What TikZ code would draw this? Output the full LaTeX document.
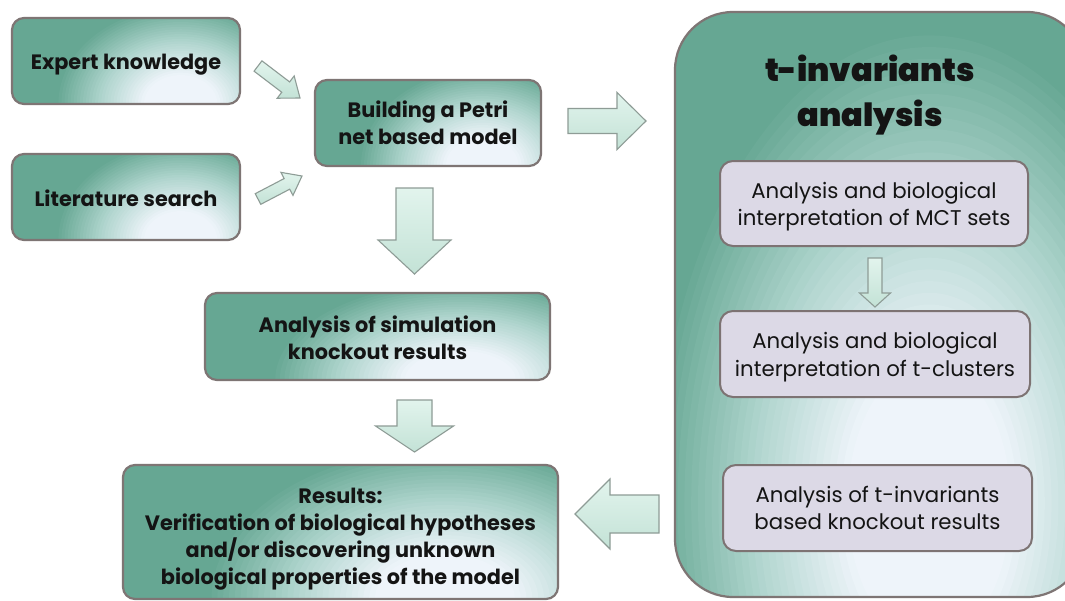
\documentclass[tikz,border=0pt]{standalone}
\usepackage{fontspec}
\setmainfont{Poppins}
\newfontfamily\heavyfont{Poppins Black}
\usetikzlibrary{calc}

\definecolor{teal0}{HTML}{66A793}
\definecolor{glowmid}{HTML}{B0D5CE}
\definecolor{glowin}{HTML}{EEF4FA}
\definecolor{edgegray}{HTML}{7E7574}
\definecolor{lav}{HTML}{DCD9E6}
\definecolor{lavedge}{HTML}{7D7373}
\definecolor{minttop}{HTML}{E2F4ED}
\definecolor{mintbot}{HTML}{C3E2D6}
\definecolor{arrowedge}{HTML}{8E9C96}
\definecolor{ink}{HTML}{141414}

% block arrow from #1 (tail) to #2 (tip): shaft half width #3,
% head half width #4, head length #5
\newcommand\blockarrow[5]{%
  \coordinate (hb) at ($(#2)!#5!(#1)$);
  \draw[fatarrow]
    ($(#1)!#3!90:(#2)$) -- ($(hb)!#3!90:(#2)$) -- ($(hb)!#4!90:(#2)$) --
    (#2) --
    ($(hb)!#4!-90:(#2)$) -- ($(hb)!#3!-90:(#2)$) -- ($(#1)!#3!-90:(#2)$) -- cycle;
}

% colour of the glow at relative radius #1 (0 = centre, 1 = rim)
\newcommand\glowcolour[1]{%
  \pgfmathsetmacro\gr{#1}%
  \ifdim\gr pt>0.64pt
    \pgfmathsetmacro\gp{(\gr-0.64)/0.36*100}%
    \colorlet{gc}{teal0!\gp!glowmid}%
  \else\ifdim\gr pt>0.30pt
    \pgfmathsetmacro\gp{(\gr-0.30)/0.34*100}%
    \colorlet{gc}{glowmid!\gp!glowin}%
  \else
    \colorlet{gc}{glowin}%
  \fi\fi}

% raises the first text line so the block sits lower in its box
\newcommand\lowerby[1]{\rule{0pt}{\dimexpr 0.75em+#1\relax}}

\begin{document}
\begin{tikzpicture}[x=1pt,y=-1pt,
  % soft white glow painted as nested ellipses, fading into the teal fill
  glowing/.style n args={4}{path picture={
    \foreach \k in {0,...,40}{
      \pgfmathsetmacro\rr{1-\k/41}
      \glowcolour{\rr}
      \fill[gc] let \p1=(path picture bounding box.south west),
                    \p2=(path picture bounding box.north east) in
        ({\x1+#1*(\x2-\x1)},{\y1+#2*(\y2-\y1)})
        ellipse [x radius={\rr*#3*(\x2-\x1)}, y radius={\rr*#4*(\y2-\y1)}];
    }}},
  tealbox/.style={draw=edgegray, line width=2.2pt, rounded corners=12pt,
    fill=teal0, glowing={0.74}{0.0}{0.55}{1.15}, align=center, text=ink,
    font=\bfseries\fontsize{20.8}{27}\selectfont},
  bigbox/.style={draw=edgegray, line width=2.2pt, rounded corners=58pt,
    fill=teal0, glowing={0.62}{0.16}{0.68}{0.82}},
  lavbox/.style={draw=lavedge, line width=2pt, rounded corners=13pt,
    fill=lav, align=center, text=ink,
    minimum width=308pt, minimum height=85pt,
    font=\fontsize{21.3}{27.5}\selectfont},
  fatarrow/.style={draw=arrowedge, line width=1.1pt, line join=miter,
    top color=minttop, bottom color=mintbot},
]
\useasboundingbox (0,0) rectangle (1065,600);
\clip (0,0) rectangle (1065,600);
\fill[white] (0,0) rectangle (1065,600);

% left column of sources and the modelling steps
\node[tealbox, minimum width=228pt, minimum height=86pt] (expert) at (126,61) {\lowerby{8pt}Expert knowledge};
\node[tealbox, minimum width=228pt, minimum height=86pt] (lit) at (126,197) {\lowerby{3pt}Literature search};
\node[tealbox, minimum width=226pt, minimum height=86pt] (build) at (428,123) {\lowerby{1pt}Building a Petri\\net based model};
\node[tealbox, minimum width=345pt, minimum height=87pt] (sim) at (377.5,336.5) {\lowerby{3pt}Analysis of simulation\\knockout results};
\node[tealbox, minimum width=435pt, minimum height=134pt] (res) at (340.5,532)
  {\lowerby{14pt}Results:\\Verification of biological hypotheses\\and/or discovering unknown\\biological properties of the model};

% t-invariants panel
\node[bigbox, minimum width=410pt, minimum height=585pt] (tinv) at (880,304.5) {};
\node[font=\heavyfont\fontsize{32}{45}\selectfont, align=center, text=ink] (title) at (870,95)
  {t-invariants\\analysis};
\node[lavbox] (mct) at (874,203.5) {\lowerby{7pt}Analysis and biological\\interpretation of MCT sets};
\node[lavbox, minimum width=310pt, minimum height=86pt] (tcl) at (875,354) {\lowerby{7pt}Analysis and biological\\interpretation of t-clusters};
\node[lavbox, minimum width=309pt, minimum height=86pt] (ko) at (877.5,508) {\lowerby{0pt}Analysis of t-invariants\\based knockout results};

% arrow end points
\coordinate (a1s) at (258,66);    \coordinate (a1e) at (300,98);
\coordinate (a2s) at (258,199);   \coordinate (a2e) at (302,176);
\coordinate (a3s) at (568,121);   \coordinate (a3e) at (646,121);
\coordinate (a4s) at (414.5,188); \coordinate (a4e) at (414.5,274);
\coordinate (a5s) at (414.5,400); \coordinate (a5e) at (414.5,452);
\coordinate (a6s) at (659,514);   \coordinate (a6e) at (575,514);
\coordinate (a7s) at (875,258);   \coordinate (a7e) at (875,307);

\blockarrow{a1s}{a1e}{6.5pt}{14pt}{18pt}
\blockarrow{a2s}{a2e}{6pt}{13pt}{17pt}
\blockarrow{a3s}{a3e}{12.5pt}{28.5pt}{29pt}
\blockarrow{a4s}{a4e}{18.5pt}{36.5pt}{34pt}
\blockarrow{a5s}{a5e}{17.5pt}{39pt}{26pt}
\blockarrow{a6s}{a6e}{19pt}{35pt}{35pt}
\blockarrow{a7s}{a7e}{7pt}{15.5pt}{14pt}
\end{tikzpicture}
\end{document}
